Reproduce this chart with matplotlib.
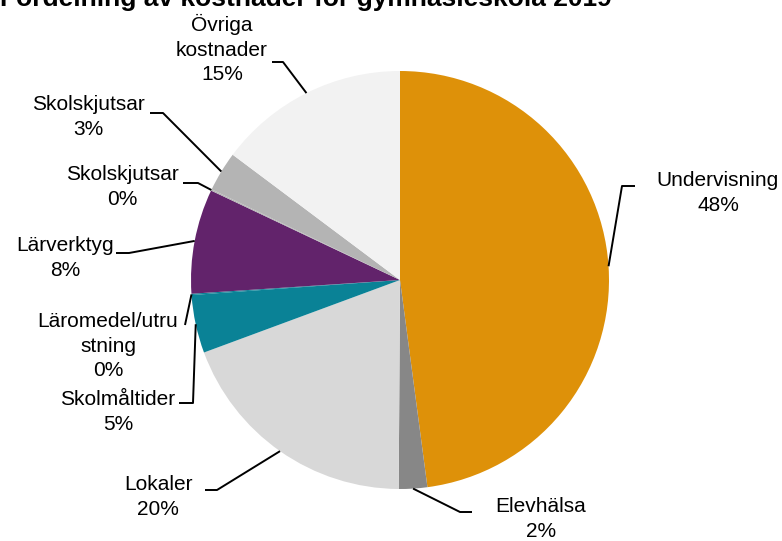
import matplotlib
matplotlib.use("Agg")
import matplotlib.pyplot as plt
import numpy as np

plt.rcParams['font.family'] = ['Liberation Sans', 'DejaVu Sans']

# ---- data ----
title = "Fördelning av kostnader för gymnasieskola 2019"
categories = ["Undervisning", "Elevhälsa", "Lokaler", "Skolmåltider",
              "Läromedel/utru\nstning", "Lärverktyg", "Skolskjutsar",
              "Skolskjutsar", "Övriga\nkostnader"]
values = [48.0, 2.2, 19.3, 4.5, 0.1, 8.1, 0.1, 3.1, 14.8]
pct_labels = ["48%", "2%", "20%", "5%", "0%", "8%", "0%", "3%", "15%"]
colors = ["#DE9109", "#878787", "#D8D8D8", "#0A8296", "#0A8296",
          "#62236B", "#B4B4B4", "#B4B4B4", "#F2F2F2"]

# ---- layout (pixel coordinates, y measured from top) ----
W, H = 782, 541
center_px = (400, 280)
radius_px = 209
# text block centre and leader elbow points (from text towards pie)
text_pos = [(718, 193), (541, 519), (158, 497), (118, 412), (108, 346),
            (65, 258), (122, 187), (88, 117), (222, 49)]
leader_pts = [[(635, 186), (622, 186)],
              [(472, 512), (460, 512)],
              [(205, 490), (217, 490)],
              [(179, 403), (193, 403)],
              [(185, 325)],
              [(116, 253), (129, 253)],
              [(183, 183), (198, 183)],
              [(150, 113), (163, 113)],
              [(272, 62), (283, 62)]]

def P(x, y):
    return x, H - y

fig = plt.figure(figsize=(W / 100, H / 100), dpi=100)
ax = fig.add_axes([0, 0, 1, 1])

cx, cy = P(*center_px)
wedges, _ = ax.pie(values, colors=colors, startangle=90, counterclock=False,
                   center=(cx, cy), radius=radius_px, frame=True,
                   wedgeprops=dict(linewidth=0))
ax.set_xlim(0, W)
ax.set_ylim(0, H)
ax.set_aspect('equal')
ax.axis('off')

for i, w in enumerate(wedges):
    mid = np.deg2rad((w.theta1 + w.theta2) / 2)
    ex = cx + radius_px * np.cos(mid)
    ey = cy + radius_px * np.sin(mid)
    pts = [P(*p) for p in leader_pts[i]] + [(ex, ey)]
    xs, ys = zip(*pts)
    ax.plot(xs, ys, color='black', lw=1.4, solid_capstyle='butt')
    tx, ty = P(*text_pos[i])
    ax.text(tx, ty, categories[i] + "\n" + pct_labels[i], ha='center',
            va='center', fontsize=15, linespacing=1.36, color='#000000')

tx, ty = P(612, 6)
ax.text(tx, ty, title, ha='right', va='baseline', fontsize=19,
        fontweight='bold', color='black')

fig.savefig("out.png", dpi=100)
